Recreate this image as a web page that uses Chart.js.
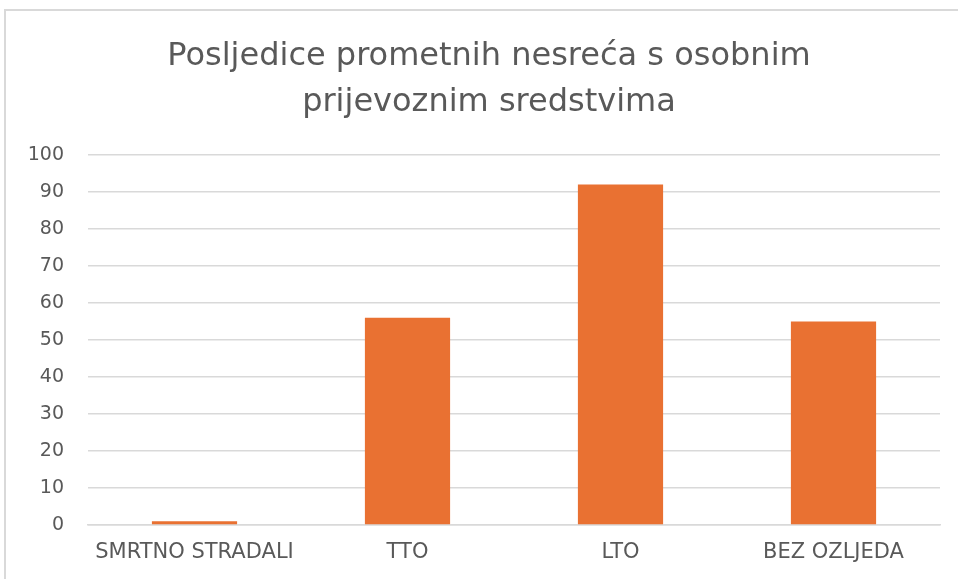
<!DOCTYPE html>
<html>
<head>
<meta charset="utf-8">
<script src="https://cdn.jsdelivr.net/npm/chart.js@4"></script>
<style>
    body { margin: 0; background: #fff; }
    #okvir {
        position: absolute; left: 4px; top: 9px;
        width: 960px; height: 580px;
        border-top: 2px solid #d9d9d9; border-left: 2px solid #d9d9d9;
    }
    #graf { position: absolute; left: 0; top: 0; width: 952px; height: 568px; }
</style>
</head>
<body>
<div id="okvir"><div id="graf"><canvas id="myChart"></canvas></div></div>
<script>
// podaci procitani sa slike
const kategorije = ['SMRTNO STRADALI', 'TTO', 'LTO', 'BEZ OZLJEDA'];
const vrijednosti = [1, 56, 92, 55];
const naslov = ['Posljedice prometnih nesreća s osobnim', 'prijevoznim sredstvima'];

const sivo = '#595959';

// naslov je u originalu malo pomaknut udesno
const pomakNaslova = {
    id: 'pomakNaslova',
    afterLayout: function (chart) {
        if (chart.titleBlock) {
            chart.titleBlock.left += 32;
        }
    }
};

const ctx = document.getElementById('myChart');
const myChart = new Chart(ctx, {
    type: 'bar',
    data: {
        labels: kategorije,
        datasets: [{
            data: vrijednosti,
            backgroundColor: '#E97132',
            borderWidth: 0,
            barPercentage: 0.4,
            categoryPercentage: 1
        }]
    },
    options: {
        responsive: true,
        maintainAspectRatio: false,
        animation: false,
        layout: { padding: { left: 0, right: 18, top: 0, bottom: 0 } },
        plugins: {
            legend: { display: false },
            tooltip: { enabled: false },
            title: {
                display: true,
                text: naslov,
                color: sivo,
                font: { family: 'DejaVu Sans', size: 32, weight: 'normal', lineHeight: 1.4375 },
                padding: { top: 23, bottom: 29 }
            }
        },
        scales: {
            x: {
                grid: { display: false, drawTicks: false },
                border: { display: true, color: '#d9d9d9', width: 1.5 },
                ticks: { color: sivo, font: { family: 'DejaVu Sans', size: 21 }, padding: 15, maxRotation: 0 },
                afterFit: function (s) { s.height = 54; }
            },
            y: {
                min: 0,
                max: 100,
                ticks: { stepSize: 10, color: sivo, font: { family: 'DejaVu Sans', size: 19 }, padding: 24 },
                grid: { color: '#d9d9d9', lineWidth: 1.5, drawTicks: false },
                border: { display: false },
                afterFit: function (s) { s.width = 82; }
            }
        }
    },
    plugins: [pomakNaslova]
});
</script>
</body>
</html>
